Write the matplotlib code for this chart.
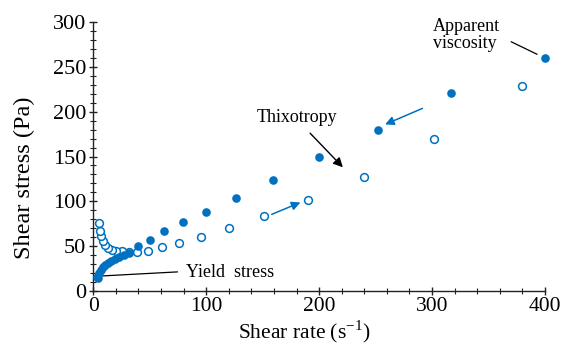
import matplotlib
matplotlib.use('Agg')
import matplotlib.pyplot as plt
from matplotlib.ticker import MultipleLocator

plt.rcParams['font.family'] = ['Liberation Serif', 'DejaVu Serif']
plt.rcParams['mathtext.fontset'] = 'custom'
plt.rcParams['mathtext.rm'] = 'Liberation Serif'

BLUE = '#0070C0'

# up curve (filled markers)
rate_up = [400, 317, 252, 200, 159, 126, 100, 79.4, 63, 50, 40, 31.4, 27, 22.5,
           19, 15.7, 13, 10.7, 8.6, 6.8, 5.3, 4.2, 3.5]
stress_up = [260, 221, 180, 149, 124, 104, 88, 77, 66.5, 57, 50.5, 42.7, 40, 38.3,
             36, 33.8, 31.6, 29, 26.4, 23.4, 19.7, 14.5, 16]

# down curve (open markers)
rate_down = [380, 302, 240, 190, 151, 120.5, 95.5, 76, 60.5, 48, 38.8, 31.4, 25,
             20.4, 16.6, 13, 10, 8.3, 6.8, 5.6, 4.7]
stress_down = [229, 169, 127.5, 101, 84, 70, 60, 53, 49, 45, 43.5, 43.5, 44.3,
               44.6, 45.4, 47.5, 51, 56, 61, 67, 75.5]

fig = plt.figure(figsize=(5.61, 3.44), dpi=100)
ax = fig.add_axes([0.1663, 0.154, 0.8052, 0.782])

ax.plot(rate_down, stress_down, 'o', ms=5.6, mfc='white', mec=BLUE, mew=1.1,
        linestyle='none', clip_on=False, zorder=3)
ax.plot(rate_up, stress_up, 'o', ms=6.2, mfc=BLUE, mec=BLUE, mew=0,
        linestyle='none', clip_on=False, zorder=4)

ax.set_xlim(0, 400)
ax.set_ylim(0, 300)
ax.xaxis.set_major_locator(MultipleLocator(100))
ax.xaxis.set_minor_locator(MultipleLocator(20))
ax.yaxis.set_major_locator(MultipleLocator(50))
ax.yaxis.set_minor_locator(MultipleLocator(10))

for s in ['top', 'right']:
    ax.spines[s].set_visible(False)
for s in ['left', 'bottom']:
    ax.spines[s].set_linewidth(1.0)
    ax.spines[s].set_color('#222222')

ax.tick_params(which='major', direction='inout', length=6, width=1.0,
               color='#222222', labelsize=16, pad=2)
ax.tick_params(axis='x', which='major', labelsize=15.5, pad=1.5)
ax.tick_params(which='minor', direction='inout', length=5, width=0.8,
               color='#222222')

ax.set_xlabel(r'Shear rate (s$^{\mathregular{-1}}$)', fontsize=15.5)
ax.set_ylabel('Shear stress (Pa)', fontsize=17.5)
ax.xaxis.set_label_coords(0.468, -0.1)
ax.yaxis.set_label_coords(-0.13, 0.42)

# annotations
ax.annotate('', xy=(6, 16.7), xytext=(77, 21.5),
            arrowprops=dict(arrowstyle='-', color='black', lw=0.9))
ax.text(82, 21, 'Yield  stress', fontsize=13, va='center', ha='left')

ax.text(145, 193, 'Thixotropy', fontsize=13, va='center', ha='left')
ax.annotate('', xy=(221, 138), xytext=(192, 176),
            arrowprops=dict(arrowstyle='-|>', color='black', lw=1.0,
                            mutation_scale=14, shrinkA=0, shrinkB=0))

ax.text(301, 286, 'Apparent\nviscosity', fontsize=13, va='center', ha='left',
        linespacing=1.0)
ax.annotate('', xy=(393, 264), xytext=(370, 278),
            arrowprops=dict(arrowstyle='-', color='black', lw=0.9,
                            shrinkA=0, shrinkB=0), annotation_clip=False)

ax.annotate('', xy=(183.4, 98.8), xytext=(158, 85.5),
            arrowprops=dict(arrowstyle='-|>', color=BLUE, lw=1.1,
                            mutation_scale=13, shrinkA=0, shrinkB=0))
ax.annotate('', xy=(258.4, 185.8), xytext=(291.5, 203.7),
            arrowprops=dict(arrowstyle='-|>', color=BLUE, lw=1.1,
                            mutation_scale=13, shrinkA=0, shrinkB=0))

fig.savefig('out.png', dpi=100)
